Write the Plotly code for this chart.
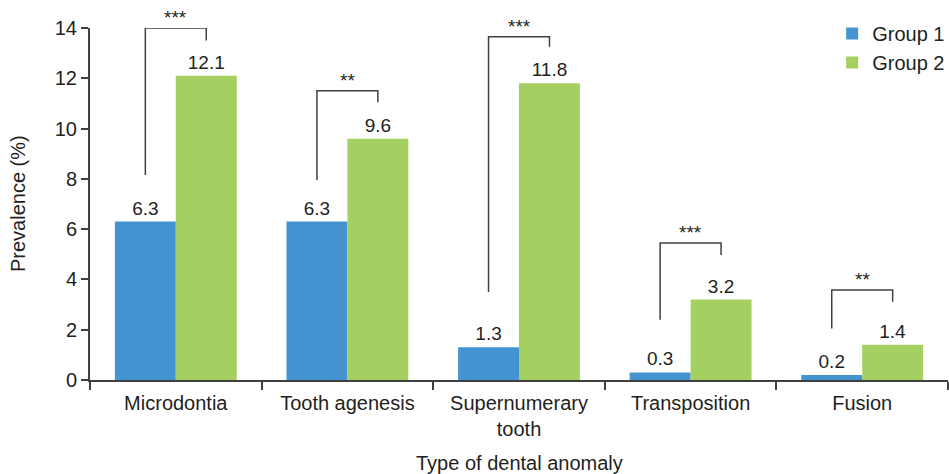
import plotly.graph_objects as go

categories = ["Microdontia", "Tooth agenesis", "Supernumerary<br>tooth", "Transposition", "Fusion"]
group1 = [6.3, 6.3, 1.3, 0.3, 0.2]
group2 = [12.1, 9.6, 11.8, 3.2, 1.4]
sig_labels = ["***", "**", "***", "***", "**"]
# bracket: left leg bottom, top, right leg bottom (data units)
bracket_left = [8.15, 7.95, 3.5, 2.4, 2.05]
bracket_top = [14.0, 11.5, 13.65, 5.45, 3.58]
bracket_right = [13.5, 11.05, 13.25, 4.97, 3.11]

BLUE = "#4394d0"
GREEN = "#a4cf61"
TXT = "#231f20"
AX = "#404040"
FONT = "Liberation Sans, Arial, sans-serif"

fig = go.Figure()
fig.add_trace(go.Bar(name="Group 1", x=categories, y=group1, marker_color=BLUE,
                     marker_line_width=0,
                     text=[f"{v:.1f}" for v in group1], textposition="outside",
                     textfont=dict(size=19, color=TXT), cliponaxis=False))
fig.add_trace(go.Bar(name="Group 2", x=categories, y=group2, marker_color=GREEN,
                     marker_line_width=0,
                     text=[f"{v:.1f}" for v in group2], textposition="outside",
                     textfont=dict(size=19, color=TXT), cliponaxis=False))

bargap = 0.29
off = (1 - bargap) / 4
for i in range(len(categories)):
    xl, xr = i - off, i + off
    fig.add_shape(type="path",
                  path=f"M {xl} {bracket_left[i]} L {xl} {bracket_top[i]} L {xr} {bracket_top[i]} L {xr} {bracket_right[i]}",
                  xref="x", yref="y", line=dict(color=AX, width=1.5))
    fig.add_annotation(x=i, y=bracket_top[i], xref="x", yref="y", text=sig_labels[i],
                       showarrow=False, yanchor="bottom", yshift=-2,
                       font=dict(size=19, color=TXT, family=FONT))

# axis titles
fig.add_annotation(x=0.5, y=0, xref="paper", yref="paper", text="Type of dental anomaly",
                   showarrow=False, yanchor="middle", yshift=-83,
                   font=dict(size=20, color=TXT, family=FONT))
fig.add_annotation(x=0, y=0.5, xref="paper", yref="paper", text="Prevalence (%)",
                   showarrow=False, xanchor="center", xshift=-72, textangle=-90,
                   font=dict(size=20, color=TXT, family=FONT))

fig.update_layout(
    width=949, height=474,
    margin=dict(l=90, r=1, t=28, b=94, autoexpand=False),
    plot_bgcolor="white", paper_bgcolor="white",
    barmode="group", bargap=bargap, bargroupgap=0,
    font=dict(family=FONT, color=TXT, size=20),
    legend=dict(x=0.865, y=1.04, xanchor="left", yanchor="top",
                font=dict(size=20, color=TXT), tracegroupgap=0,
                bgcolor="rgba(0,0,0,0)", itemwidth=30),
    xaxis=dict(showline=True, linecolor=AX, linewidth=2, ticks="outside",
               tickson="boundaries", ticklen=8, tickcolor=AX, tickwidth=1.5,
               ticklabelstandoff=4,
               tickfont=dict(size=20, color=TXT), automargin=False),
    yaxis=dict(range=[0, 14], dtick=2, showline=True, linecolor=AX, linewidth=2,
               ticks="outside", ticklen=7, tickcolor=AX, tickwidth=1.5,
               showgrid=False, zeroline=False, automargin=False,
               tickfont=dict(size=20, color=TXT)),
)

fig.write_html("out.html", config={"displayModeBar": False},
               post_script="document.body.style.margin='0';document.body.style.overflow='hidden';")
